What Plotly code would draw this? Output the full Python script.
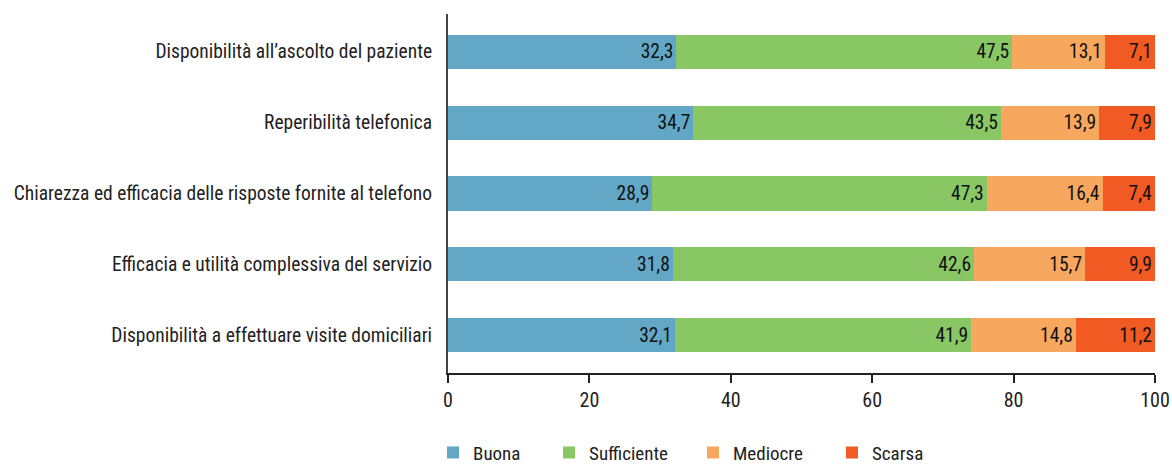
import plotly.graph_objects as go

categories = [
    "Disponibilità all’ascolto del paziente",
    "Reperibilità telefonica",
    "Chiarezza ed efficacia delle risposte fornite al telefono",
    "Efficacia e utilità complessiva del servizio",
    "Disponibilità a effettuare visite domiciliari",
]
series_names = ["Buona", "Sufficiente", "Mediocre", "Scarsa"]
buona = [32.3, 34.7, 28.9, 31.8, 32.1]
sufficiente = [47.5, 43.5, 47.3, 42.6, 41.9]
mediocre = [13.1, 13.9, 16.4, 15.7, 14.8]
scarsa = [7.1, 7.9, 7.4, 9.9, 11.2]
colors = ["#62a8c6", "#89c765", "#f8a85e", "#f15a22"]
x_ticks = [0, 20, 40, 60, 80, 100]

FONT = "Liberation Sans Narrow, Roboto Condensed, DejaVu Sans Condensed, Roboto, sans-serif"

legend_names = ["legend", "legend2", "legend3", "legend4"]
legend_x = [-0.0212, 0.1429, 0.3465, 0.5431]

fig = go.Figure()
for name, vals, col, lg in zip(series_names, [buona, sufficiente, mediocre, scarsa], colors, legend_names):
    fig.add_trace(go.Bar(
        y=categories, x=vals, name=name, orientation="h",
        marker=dict(color=col, line=dict(width=0)),
        text=[f"{v:.1f}".replace(".", ",") for v in vals],
        textposition="inside", insidetextanchor="end",
        textfont=dict(color="#111111", size=19.5, family=FONT),
        constraintext="none", cliponaxis=False, legend=lg,
        hoverinfo="skip",
    ))

legend_common = dict(orientation="h", yanchor="middle", y=-0.222, xanchor="left",
                     font=dict(size=19, color="#222222", family=FONT),
                     bgcolor="rgba(0,0,0,0)")
layout_legends = {lg: dict(x=lx, **legend_common) for lg, lx in zip(legend_names, legend_x)}

fig.update_layout(
    barmode="stack", bargap=0.52,
    width=1172, height=466,
    margin=dict(l=448, r=17, t=14, b=93, autoexpand=False),
    paper_bgcolor="white", plot_bgcolor="white",
    font=dict(family=FONT, size=19.5, color="#222222"),
    showlegend=True,
    **layout_legends,
)
fig.update_xaxes(
    range=[0, 100.0001], tickvals=x_ticks, ticktext=[str(t) for t in x_ticks],
    showgrid=False, zeroline=False, showline=True, linecolor="#222222", linewidth=1.5,
    ticks="outside", ticklen=8, tickcolor="#222222", tickwidth=1.5,
    tickfont=dict(size=20, color="#222222"), ticklabelstandoff=0, automargin=False,
)
fig.update_yaxes(
    categoryorder="array", categoryarray=categories, autorange=False,
    range=[4.53, -0.53], showgrid=False, zeroline=False,
    showline=True, linecolor="#444444", linewidth=2, ticks="",
    ticklabelstandoff=10, tickfont=dict(size=19.5, color="#222222"), automargin=False,
)

fig.write_html("out.html", config={"displayModeBar": False},
               post_script="document.body.style.margin='0px';")
